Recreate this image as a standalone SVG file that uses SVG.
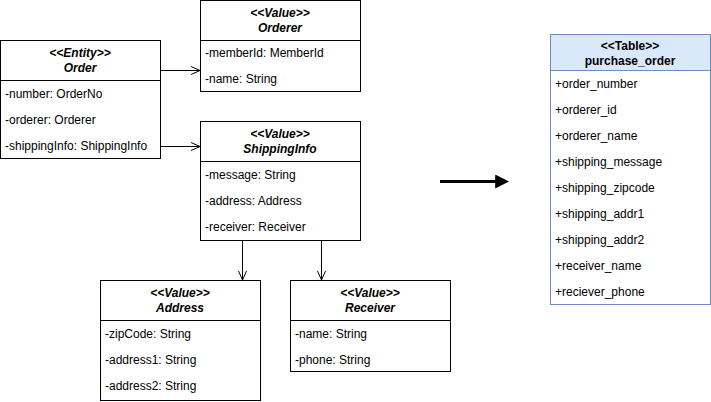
<svg xmlns="http://www.w3.org/2000/svg" width="711" height="402" viewBox="0 0 711 402">
<defs>
<marker id="open" viewBox="0 0 10 10" refX="10" refY="5" markerWidth="10" markerHeight="10" markerUnits="userSpaceOnUse" orient="auto">
<path d="M1,1 L10,5 L1,9" fill="none" stroke="#000" stroke-width="1"/>
</marker>
<marker id="solid" viewBox="0 0 10 10" refX="2" refY="5" markerWidth="14" markerHeight="14" markerUnits="userSpaceOnUse" orient="auto">
<path d="M0,0 L10,5 L0,10 Z" fill="#000"/>
</marker>
</defs>
<style>
.box{fill:#fff;stroke:#000;stroke-width:1}
.tbl{fill:#fff;stroke:#6c8ebf;stroke-width:1}
.tblh{fill:#dae8fc;stroke:#6c8ebf;stroke-width:1}
text{font-family:"Liberation Sans",Arial,sans-serif;font-size:12px;fill:#000}
.h{font-weight:bold;font-style:italic;text-anchor:middle}
.th{font-weight:bold;text-anchor:middle}
.a{dominant-baseline:central}
.c{fill:none;stroke:#000;stroke-width:1}
</style>
<rect width="711" height="402" fill="#fff"/>
<g id="order">
<rect class="box" x="0.5" y="40.5" width="160" height="118"/>
<line class="c" x1="0.5" y1="80.5" x2="160.5" y2="80.5"/>
<text class="h" x="80" y="57">&lt;&lt;Entity&gt;&gt;</text>
<text class="h" x="80" y="72">Order</text>
<text class="a" x="5" y="94">-number: OrderNo</text>
<text class="a" x="5" y="120">-orderer: Orderer</text>
<text class="a" x="5" y="146">-shippingInfo: ShippingInfo</text>
</g>
<g id="orderer">
<rect class="box" x="200.5" y="0.5" width="160" height="91"/>
<line class="c" x1="200.5" y1="40.5" x2="360.5" y2="40.5"/>
<text class="h" x="280" y="17">&lt;&lt;Value&gt;&gt;</text>
<text class="h" x="280" y="32">Orderer</text>
<text class="a" x="205" y="53">-memberId: MemberId</text>
<text class="a" x="205" y="79">-name: String</text>
</g>
<g id="shippinginfo">
<rect class="box" x="200.5" y="121.5" width="160" height="119"/>
<line class="c" x1="200.5" y1="161.5" x2="360.5" y2="161.5"/>
<text class="h" x="280" y="138">&lt;&lt;Value&gt;&gt;</text>
<text class="h" x="280" y="153">ShippingInfo</text>
<text class="a" x="205" y="175">-message: String</text>
<text class="a" x="205" y="201">-address: Address</text>
<text class="a" x="205" y="227">-receiver: Receiver</text>
</g>
<g id="address">
<rect class="box" x="100.5" y="280.5" width="160" height="120"/>
<line class="c" x1="100.5" y1="320.5" x2="260.5" y2="320.5"/>
<text class="h" x="180" y="297">&lt;&lt;Value&gt;&gt;</text>
<text class="h" x="180" y="312">Address</text>
<text class="a" x="105" y="334">-zipCode: String</text>
<text class="a" x="105" y="360">-address1: String</text>
<text class="a" x="105" y="386">-address2: String</text>
</g>
<g id="receiver">
<rect class="box" x="290.5" y="280.5" width="160" height="91"/>
<line class="c" x1="290.5" y1="320.5" x2="450.5" y2="320.5"/>
<text class="h" x="370" y="297">&lt;&lt;Value&gt;&gt;</text>
<text class="h" x="370" y="312">Receiver</text>
<text class="a" x="295" y="334">-name: String</text>
<text class="a" x="295" y="360">-phone: String</text>
</g>
<g id="purchase_order">
<rect class="tbl" x="550.5" y="34.5" width="160" height="270"/>
<rect class="tblh" x="550.5" y="34.5" width="160" height="36"/>
<text class="th" x="630" y="50">&lt;&lt;Table&gt;&gt;</text>
<text class="th" x="630" y="65">purchase_order</text>
<text class="a" x="555" y="84">+order_number</text>
<text class="a" x="555" y="110">+orderer_id</text>
<text class="a" x="555" y="136">+orderer_name</text>
<text class="a" x="555" y="162">+shipping_message</text>
<text class="a" x="555" y="188">+shipping_zipcode</text>
<text class="a" x="555" y="214">+shipping_addr1</text>
<text class="a" x="555" y="240">+shipping_addr2</text>
<text class="a" x="555" y="266">+receiver_name</text>
<text class="a" x="555" y="292">+reciever_phone</text>
</g>
<g id="connectors">
<line class="c" x1="160.5" y1="70.5" x2="200" y2="70.5" marker-end="url(#open)"/>
<line class="c" x1="160.5" y1="146.5" x2="200" y2="146.5" marker-end="url(#open)"/>
<line class="c" x1="242.5" y1="241" x2="242.5" y2="280" marker-end="url(#open)"/>
<line class="c" x1="321.5" y1="241" x2="321.5" y2="280" marker-end="url(#open)"/>
<line x1="440" y1="181.5" x2="498" y2="181.5" stroke="#000" stroke-width="3" marker-end="url(#solid)"/>
</g>
</svg>
